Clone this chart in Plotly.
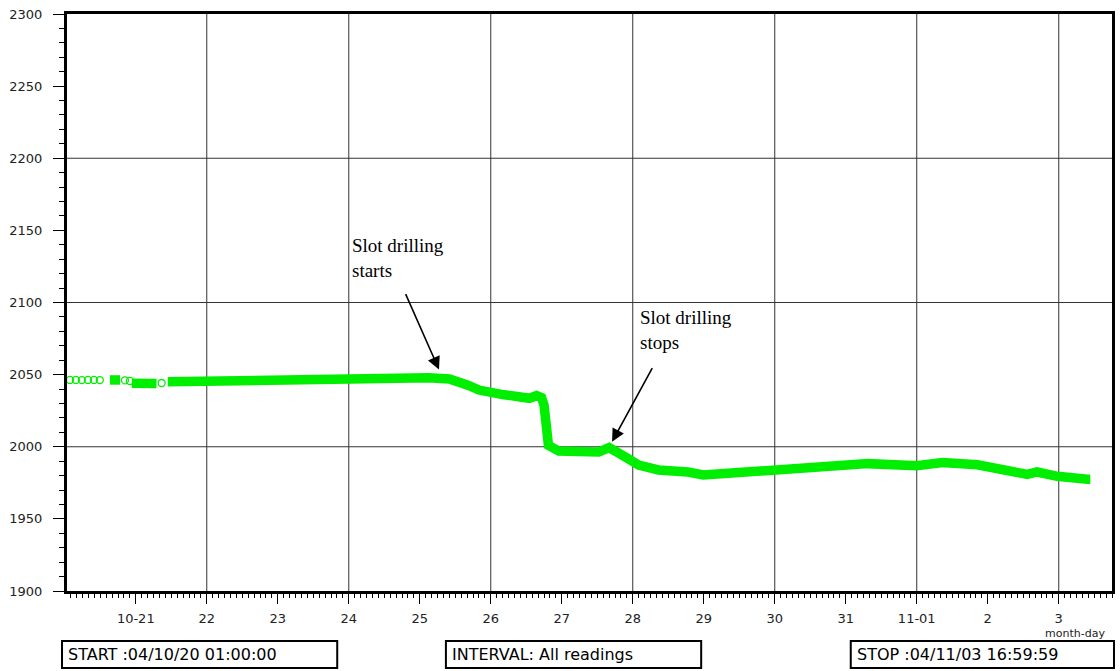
import plotly.graph_objects as go

# ---------------- data ----------------
# sparse early readings (drawn as open circles)
sparse_time = ["2004-10-20 01:45", "2004-10-20 03:45", "2004-10-20 05:45",
               "2004-10-20 07:50", "2004-10-20 09:50", "2004-10-20 11:50",
               "2004-10-20 20:20", "2004-10-20 22:00", "2004-10-21 08:45"]
sparse_val = [2046.3, 2046.3, 2046.2, 2046.3, 2046.3, 2046.2,
              2046.0, 2045.6, 2044.2]

# dense readings (None separates gaps in the record)
dense_time = ["2004-10-20 15:15", "2004-10-20 18:40", None,
              "2004-10-20 22:40", "2004-10-21 03:00", "2004-10-21 07:00", None,
              "2004-10-21 10:50", "2004-10-21 18:00", "2004-10-22 00:00",
              "2004-10-22 14:00", "2004-10-23 00:00", "2004-10-23 17:00",
              "2004-10-24 03:30", "2004-10-24 13:40", "2004-10-25 03:00",
              "2004-10-25 10:00", "2004-10-25 13:00", "2004-10-25 16:30",
              "2004-10-25 20:00", "2004-10-26 00:00", "2004-10-26 04:30",
              "2004-10-26 09:30", "2004-10-26 13:00", "2004-10-26 15:30",
              "2004-10-26 17:10", "2004-10-26 18:00", "2004-10-26 18:30",
              "2004-10-26 19:30", "2004-10-26 23:00", "2004-10-27 05:40",
              "2004-10-27 12:30", "2004-10-27 16:00", "2004-10-27 18:30",
              "2004-10-27 21:00", "2004-10-28 02:00", "2004-10-28 08:40",
              "2004-10-28 18:40", "2004-10-28 23:50", "2004-10-29 08:10",
              "2004-10-30 01:00", "2004-10-30 14:30", "2004-10-31 07:30",
              "2004-11-01 00:00", "2004-11-01 08:40", "2004-11-01 20:30",
              "2004-11-02 06:40", "2004-11-02 13:20", "2004-11-02 16:40",
              "2004-11-02 23:30", "2004-11-03 09:40", "2004-11-03 10:40"]
dense_val = [2046.3, 2046.3, None,
             2044.0, 2043.5, 2043.8, None,
             2045.0, 2045.3, 2045.3,
             2045.0, 2045.5, 2046.0,
             2046.5, 2047.4, 2047.9,
             2047.0, 2045.6, 2042.5,
             2039.3, 2037.0, 2036.0,
             2034.7, 2033.6, 2035.4,
             2034.0, 2029.0, 2010.0,
             2001.0, 1997.0, 1996.0,
             1996.3, 1999.4, 1997.0,
             1993.5, 1987.3, 1983.9,
             1982.5, 1980.5, 1981.6,
             1983.9, 1986.2, 1988.3,
             1986.9, 1989.0, 1987.5,
             1983.0, 1980.8, 1982.5,
             1979.5, 1977.5, 1977.5]

x_tick_vals = ["2004-10-21", "2004-10-22", "2004-10-23", "2004-10-24",
               "2004-10-25", "2004-10-26", "2004-10-27", "2004-10-28",
               "2004-10-29", "2004-10-30", "2004-10-31", "2004-11-01",
               "2004-11-02", "2004-11-03"]
x_tick_text = ["10-21", "22", "23", "24", "25", "26", "27", "28",
               "29", "30", "31", "11-01", "2", "3"]
x_grid_vals = ["2004-10-22", "2004-10-24", "2004-10-26", "2004-10-28",
               "2004-10-30", "2004-11-01", "2004-11-03"]
y_grid_vals = [2000, 2100, 2200]

start_text = "START :04/10/20 01:00:00"
interval_text = "INTERVAL: All readings"
stop_text = "STOP :04/11/03 16:59:59"

GREEN = "rgb(0,238,0)"
W, H = 1120, 671
L, R, T, B = 67, 5, 14, 80
PW, PH = W - L - R, H - T - B


def px(x):
    return (x - L) / PW


def py(y):
    return (H - B - y) / PH


fig = go.Figure()
fig.add_trace(go.Scatter(x=dense_time, y=dense_val, mode="lines",
                         line=dict(color=GREEN, width=9.5),
                         connectgaps=False, hoverinfo="skip"))
fig.add_trace(go.Scatter(x=sparse_time, y=sparse_val, mode="markers",
                         marker=dict(symbol="circle-open", size=7,
                                     color=GREEN, line=dict(width=1.3, color=GREEN)),
                         hoverinfo="skip"))

for gx in x_grid_vals:
    fig.add_shape(type="line", xref="x", yref="paper", x0=gx, x1=gx, y0=0, y1=1,
                  line=dict(color="#333", width=1), layer="below")
for gy in y_grid_vals:
    fig.add_shape(type="line", xref="paper", yref="y", x0=0, x1=1, y0=gy, y1=gy,
                  line=dict(color="#333", width=1), layer="below")

# bottom info boxes
boxes = [(62, 338, start_text), (447, 703, interval_text), (853, 1117, stop_text)]
for x0, x1, txt in boxes:
    fig.add_shape(type="rect", xref="paper", yref="paper",
                  x0=px(x0), x1=px(x1), y0=py(668), y1=py(641),
                  line=dict(color="black", width=2), fillcolor="white")
    fig.add_annotation(xref="paper", yref="paper", x=px(x0 + 4), y=py(654.5),
                       xanchor="left", yanchor="middle", showarrow=False,
                       text=txt, font=dict(family="DejaVu Sans", size=16, color="black"))

fig.add_annotation(xref="paper", yref="paper", x=px(1110), y=py(633),
                   xanchor="right", yanchor="middle", showarrow=False,
                   text="month-day", font=dict(family="DejaVu Sans", size=11, color="#222"))

# text annotations
tfont = dict(family="Liberation Serif", size=19, color="black")
fig.add_annotation(xref="paper", yref="paper", x=px(351), y=py(233),
                   xanchor="left", yanchor="top", align="left", showarrow=False,
                   text="Slot drilling<br>starts", font=tfont)
fig.add_annotation(xref="paper", yref="paper", x=px(640), y=py(305),
                   xanchor="left", yanchor="top", align="left", showarrow=False,
                   text="Slot drilling<br>stops", font=tfont)

# arrows
fig.add_annotation(x="2004-10-25 06:30", y=2053.5, xref="x", yref="y",
                   ax=-34, ay=-77, showarrow=True, text="",
                   arrowhead=2, arrowsize=1.6, arrowwidth=1.6, arrowcolor="black",
                   standoff=0)
fig.add_annotation(x="2004-10-27 17:00", y=2003.5, xref="x", yref="y",
                   ax=41, ay=-75, showarrow=True, text="",
                   arrowhead=2, arrowsize=1.6, arrowwidth=1.6, arrowcolor="black",
                   standoff=0)

tickfont = dict(family="DejaVu Sans", size=13, color="#222")
fig.update_layout(
    width=W, height=H, margin=dict(l=L, r=R, t=T, b=B, pad=0),
    paper_bgcolor="white", plot_bgcolor="white", showlegend=False,
    xaxis=dict(type="date", range=["2004-10-20 00:45", "2004-11-03 18:00"],
               tickmode="array", tickvals=x_tick_vals, ticktext=x_tick_text,
               ticks="outside", ticklen=10, tickwidth=1, tickcolor="black",
               ticklabelstandoff=3,
               minor=dict(dtick=2 * 3600 * 1000, ticks="outside", ticklen=4,
                          tickwidth=1, tickcolor="black", showgrid=False),
               showline=True, linewidth=3, linecolor="black", mirror=True,
               showgrid=False, zeroline=False, tickfont=tickfont, fixedrange=True),
    yaxis=dict(range=[1900, 2300], dtick=50, tick0=1900,
               ticks="outside", ticklen=11, tickwidth=1, tickcolor="black",
               ticklabelstandoff=8,
               minor=dict(dtick=10, ticks="outside", ticklen=5, tickwidth=1,
                          tickcolor="black", showgrid=False),
               showline=True, linewidth=3, linecolor="black", mirror=True,
               showgrid=False, zeroline=False, tickfont=tickfont, fixedrange=True),
)

fig.write_html("out.html")
